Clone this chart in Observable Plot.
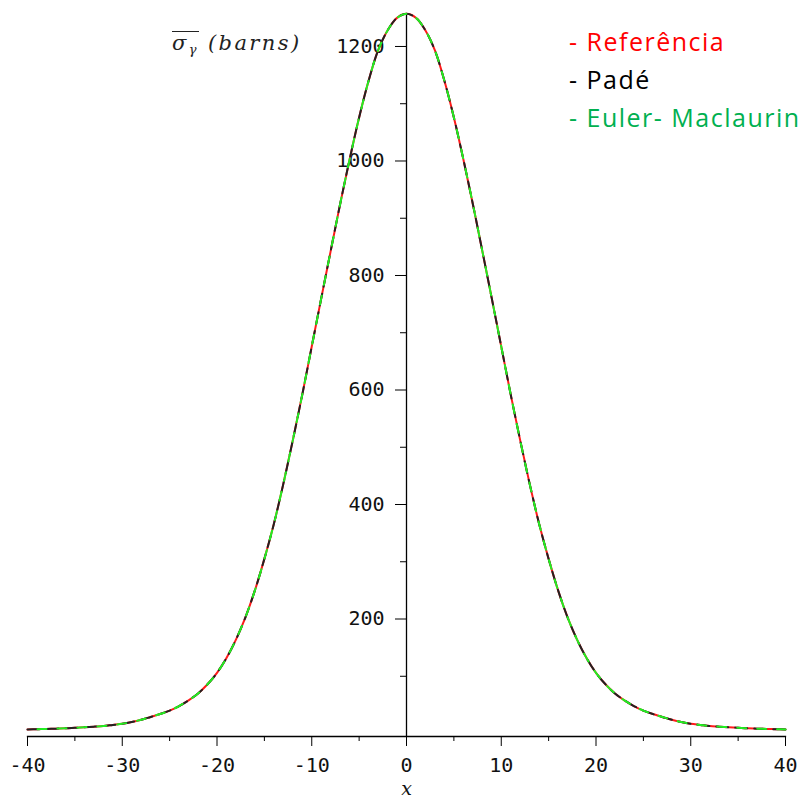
<!DOCTYPE html>
<html><head><meta charset="utf-8">
<script src="https://cdn.jsdelivr.net/npm/d3@7"></script>
<script src="https://cdn.jsdelivr.net/npm/@observablehq/plot@0.6"></script>
<style>
body{margin:0;background:#fff}
#chart{position:relative;width:805px;height:805px}
#ylabel{position:absolute;left:172px;top:30px;font-family:'DejaVu Serif',serif;font-style:italic;font-size:21px;letter-spacing:2.4px;line-height:26px;white-space:nowrap;color:#222}
#ylabel .ov{display:inline-block;border-top:1.5px solid #222;line-height:20px;padding-top:1px}
#ylabel sub{font-size:13px;vertical-align:-4px;line-height:0}
#legend{position:absolute;left:569px;top:22px;font-family:'Open Sans',sans-serif;font-size:25px;letter-spacing:1.5px;line-height:38px;white-space:nowrap}
</style>
</head><body><div id="chart"></div>
<script>
const xValues = [-40,-39,-38,-37,-36,-35,-34,-33,-32,-31,-30,-29,-28,-27,-26,-25,-24,-23,-22,-21,-20,-19,-18,-17,-16,-15,-14,-13,-12,-11,-10,-9,-8,-7,-6,-5,-4,-3,-2,-1,0,1,2,3,4,5,6,7,8,9,10,11,12,13,14,15,16,17,18,19,20,21,22,23,24,25,26,27,28,29,30,31,32,33,34,35,36,37,38,39,40];
const sigmaReferencia = [7,7.5,8,8.5,9,10,11,12,13,15,17,20,24,29,34,40,48,58,70,86,106,132,164,203,250,305,366,436,512,592,676,760,843,925,1003,1076,1140,1193,1228,1250,1257,1250,1228,1193,1140,1076,1003,925,843,760,676,592,512,436,366,305,250,203,164,132,106,86,70,58,48,40,34,29,24,20,17,15,13,12,11,10,9,8.5,8,7.5,7];
const sigmaPade = [7,7.5,8,8.5,9,10,11,12,13,15,17,20,24,29,34,40,48,58,70,86,106,132,164,203,250,305,366,436,512,592,676,760,843,925,1003,1076,1140,1193,1228,1250,1257,1250,1228,1193,1140,1076,1003,925,843,760,676,592,512,436,366,305,250,203,164,132,106,86,70,58,48,40,34,29,24,20,17,15,13,12,11,10,9,8.5,8,7.5,7];
const sigmaEulerMaclaurin = [7,7.5,8,8.5,9,10,11,12,13,15,17,20,24,29,34,40,48,58,70,86,106,132,164,203,250,305,366,436,512,592,676,760,843,925,1003,1076,1140,1193,1228,1250,1257,1250,1228,1193,1140,1076,1003,925,843,760,676,592,512,436,366,305,250,203,164,132,106,86,70,58,48,40,34,29,24,20,17,15,13,12,11,10,9,8.5,8,7.5,7];

const xTicksMajor = [-40,-30,-20,-10,0,10,20,30,40];
const xTicksMinor = [-35,-25,-15,-5,5,15,25,35];
const yTicksMajor = [200,400,600,800,1000,1200];
const yTicksMinor = [100,300,500,700,900,1100];
const legendLabels = ["- Referência","- Padé","- Euler- Maclaurin"];
const legendColors = ["#ff0000","#000000","#00b050"];
const xLabel = "x";

const W = 805, H = 805, mL = 27, mR = 20, mT = 13, mB = 69;
const axisDx = (W - mL - mR) / 2;

const rows = s => xValues.map((x, i) => ({x, y: s[i]}));

const chart = Plot.plot({
  width: W, height: H,
  marginLeft: mL, marginRight: mR, marginTop: mT, marginBottom: mB,
  style: {fontFamily: "'DejaVu Sans Mono', monospace", fontSize: "20px", background: "white", color: "#111"},
  x: {domain: [-40, 40]},
  y: {domain: [-5.2, 1257.6]},
  marks: [
    Plot.frame({anchor: "bottom", stroke: "black", strokeWidth: 1.3}),
    Plot.ruleX([0], {stroke: "black", strokeWidth: 1.3}),
    Plot.axisX({ticks: xTicksMajor, tickSize: 10, tickPadding: 11, tickFormat: d => String(d), label: null, fontSize: 20, stroke: "black"}),
    Plot.axisX({ticks: xTicksMinor, tickSize: 5, tickFormat: () => "", label: null, stroke: "black"}),
    Plot.axisY({ticks: yTicksMajor, anchor: "left", dx: axisDx, tickSize: 11, tickPadding: 11, tickFormat: d => String(d), label: null, fontSize: 20, stroke: "black"}),
    Plot.axisY({ticks: yTicksMinor, anchor: "left", dx: axisDx, tickSize: 6, tickFormat: () => "", label: null, stroke: "black"}),
    Plot.text([xLabel], {x: 0, frameAnchor: "bottom", dy: 58, text: d => d, fontFamily: "'DejaVu Serif', serif", fontStyle: "italic", fontSize: 19}),
    Plot.line(rows(sigmaReferencia), {x: "x", y: "y", stroke: "#ff1a1a", strokeWidth: 2, curve: "catmull-rom"}),
    Plot.line(rows(sigmaPade), {x: "x", y: "y", stroke: "#222222", strokeWidth: 2, strokeDasharray: "12,7", curve: "catmull-rom"}),
    Plot.line(rows(sigmaEulerMaclaurin), {x: "x", y: "y", stroke: "#22ee22", strokeWidth: 2, strokeDasharray: "9,11", strokeDashoffset: -10, curve: "catmull-rom"})
  ]
});

const root = document.getElementById("chart");
root.appendChild(chart);

const yl = document.createElement("div");
yl.id = "ylabel";
yl.innerHTML = '<span class="ov">σ<sub>γ</sub></span> (barns)';
root.appendChild(yl);

const lg = document.createElement("div");
lg.id = "legend";
legendLabels.forEach((t, i) => {
  const d = document.createElement("div");
  d.textContent = t;
  d.style.color = legendColors[i];
  lg.appendChild(d);
});
root.appendChild(lg);
</script>
</body></html>
